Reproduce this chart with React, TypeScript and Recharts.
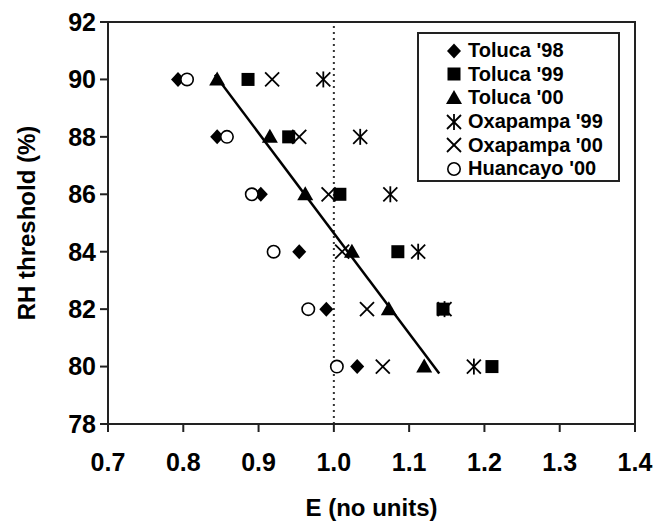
import type { CSSProperties, ReactNode } from "react";
import {
  ReferenceArea,
  ReferenceLine,
  Scatter,
  ScatterChart,
  XAxis,
  YAxis,
} from "recharts";

// RH thresholds shared by every series (one point per threshold)
const rhLevels = [90, 88, 86, 84, 82, 80];

const toluca98 = [0.793, 0.845, 0.903, 0.954, 0.99, 1.031];
const toluca99 = [0.886, 0.94, 1.008, 1.085, 1.145, 1.21];
const toluca00 = [0.845, 0.915, 0.962, 1.024, 1.073, 1.12];
const oxapampa99 = [0.986, 1.035, 1.075, 1.112, 1.147, 1.186];
const oxapampa00 = [0.918, 0.954, 0.993, 1.011, 1.044, 1.065];
const huancayo00 = [0.805, 0.858, 0.891, 0.92, 0.966, 1.004];

// trend line end points
const fitE = [0.842, 1.14];
const fitRH = [90.16, 79.76];

const xTicks = [0.7, 0.8, 0.9, 1.0, 1.1, 1.2, 1.3, 1.4];
const yTicks = [78, 80, 82, 84, 86, 88, 90, 92];

const toPoints = (values: number[]) =>
  values.map((e, i) => ({ e, rh: rhLevels[i] }));

type Marker = "diamond" | "square" | "triangle" | "star" | "cross" | "circle";

function drawMarker(kind: Marker, cx: number, cy: number): ReactNode {
  switch (kind) {
    case "diamond":
      return (
        <polygon
          points={`${cx},${cy - 7.5} ${cx + 7},${cy} ${cx},${cy + 7.5} ${cx - 7},${cy}`}
          fill="#000"
        />
      );
    case "square":
      return <rect x={cx - 6.5} y={cy - 6.5} width={13} height={13} fill="#000" />;
    case "triangle":
      return (
        <polygon
          points={`${cx},${cy - 8} ${cx + 8},${cy + 6} ${cx - 8},${cy + 6}`}
          fill="#000"
        />
      );
    case "star":
      return (
        <g stroke="#000" strokeWidth={1.8}>
          <line x1={cx} y1={cy - 8} x2={cx} y2={cy + 8} />
          <line x1={cx - 7} y1={cy - 7} x2={cx + 7} y2={cy + 7} />
          <line x1={cx + 7} y1={cy - 7} x2={cx - 7} y2={cy + 7} />
        </g>
      );
    case "cross":
      return (
        <g stroke="#000" strokeWidth={1.8}>
          <line x1={cx - 7} y1={cy - 7} x2={cx + 7} y2={cy + 7} />
          <line x1={cx + 7} y1={cy - 7} x2={cx - 7} y2={cy + 7} />
        </g>
      );
    default:
      return <circle cx={cx} cy={cy} r={6.2} fill="#fff" stroke="#000" strokeWidth={1.6} />;
  }
}

const series: { name: string; values: number[]; marker: Marker }[] = [
  { name: "Toluca '98", values: toluca98, marker: "diamond" },
  { name: "Toluca '99", values: toluca99, marker: "square" },
  { name: "Toluca '00", values: toluca00, marker: "triangle" },
  { name: "Oxapampa '99", values: oxapampa99, marker: "star" },
  { name: "Oxapampa '00", values: oxapampa00, marker: "cross" },
  { name: "Huancayo '00", values: huancayo00, marker: "circle" },
];

const FONT = '"Liberation Sans", Arial, sans-serif';

function LegendBox() {
  return (
    <div style={styles.legend}>
      {series.map((s) => (
        <div key={s.name} style={styles.legendRow}>
          <svg width={18} height={18} style={{ marginRight: 5 }}>
            {drawMarker(s.marker, 9, 9)}
          </svg>
          <span>{s.name}</span>
        </div>
      ))}
    </div>
  );
}

export default function App() {
  const fitLine = fitE.map((e, i) => ({ e, rh: fitRH[i] }));
  return (
    <div style={styles.page}>
      <ScatterChart
        width={655}
        height={529}
        margin={{ top: 22, right: 20, left: 8, bottom: 5 }}
      >
        <ReferenceArea
          x1={0.7}
          x2={1.4}
          y1={78}
          y2={92}
          fill="none"
          stroke="#222"
          strokeWidth={2}
          ifOverflow="visible"
        />
        <XAxis
          type="number"
          dataKey="e"
          domain={[0.7, 1.4]}
          ticks={xTicks}
          tickFormatter={(v: number) => v.toFixed(1)}
          allowDataOverflow
          height={100}
          stroke="#222"
          strokeWidth={2}
          tickSize={8}
          tickMargin={21}
          tick={{ fill: "#000", fontSize: 25, fontWeight: 700, fontFamily: FONT }}
          label={{
            value: "E (no units)",
            position: "insideBottom",
            offset: 8,
            fill: "#000",
            fontSize: 24,
            fontWeight: 700,
            fontFamily: FONT,
          }}
        />
        <YAxis
          type="number"
          dataKey="rh"
          domain={[78, 92]}
          ticks={yTicks}
          allowDataOverflow
          width={100}
          stroke="#222"
          strokeWidth={2}
          tickSize={8}
          tickMargin={4}
          tick={{ fill: "#000", fontSize: 25, fontWeight: 700, fontFamily: FONT }}
          label={{
            value: "RH threshold (%)",
            angle: -90,
            position: "insideLeft",
            offset: 18,
            style: { textAnchor: "middle" },
            fill: "#000",
            fontSize: 24,
            fontWeight: 700,
            fontFamily: FONT,
          }}
        />
        <ReferenceLine
          x={1.0}
          stroke="#333"
          strokeWidth={2}
          strokeDasharray="2 4"
        />
        <Scatter
          data={fitLine}
          line={{ stroke: "#000", strokeWidth: 2.5 }}
          shape={() => <g />}
          isAnimationActive={false}
        />
        {series.map((s) => (
          <Scatter
            key={s.name}
            name={s.name}
            data={toPoints(s.values)}
            isAnimationActive={false}
            shape={(p: any) => drawMarker(s.marker, p.cx, p.cy) as any}
          />
        ))}
      </ScatterChart>
      <LegendBox />
    </div>
  );
}

const styles: Record<string, CSSProperties> = {
  page: {
    position: "absolute",
    left: 0,
    top: 0,
    width: 655,
    height: 529,
    background: "#fff",
    fontFamily: FONT,
  },
  legend: {
    position: "absolute",
    left: 417,
    top: 32,
    width: 203,
    height: 150,
    boxSizing: "border-box",
    border: "2px solid #222",
    background: "#fff",
    padding: "5px 0 0 26px",
  },
  legendRow: {
    display: "flex",
    alignItems: "center",
    height: 23.6,
    fontSize: 20,
    fontWeight: 700,
    color: "#000",
  },
};
